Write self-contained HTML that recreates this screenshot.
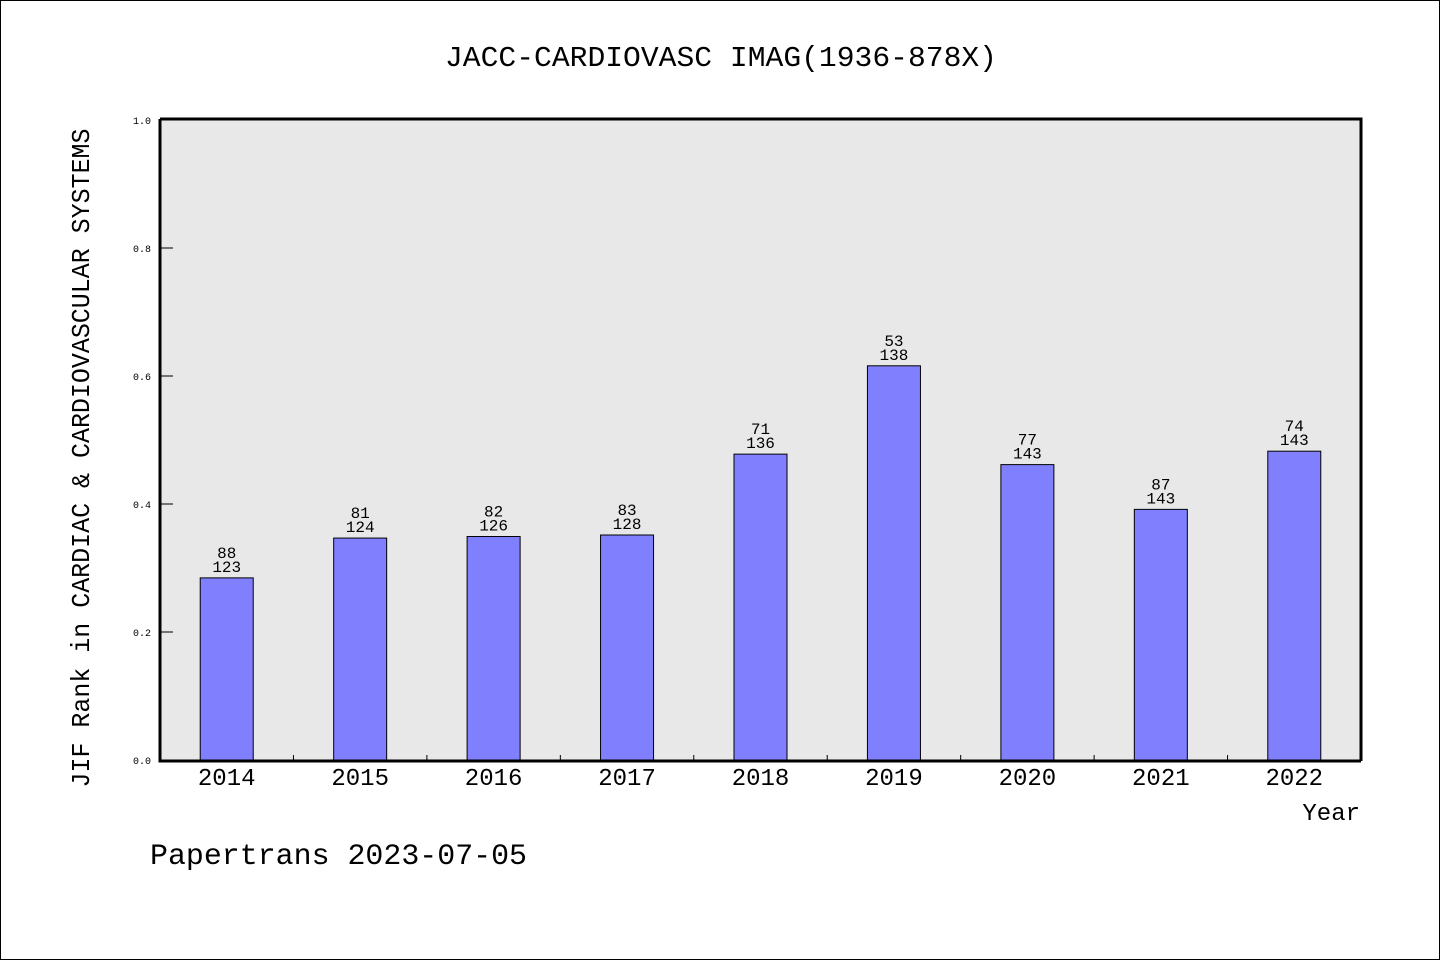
<!DOCTYPE html>
<html><head><meta charset="utf-8"><style>
html,body{margin:0;padding:0;background:#fff;}
svg{display:block;}
text{font-family:"Liberation Mono","DejaVu Sans Mono",monospace;fill:#000;}
</style></head><body>
<svg id="chart" width="1440" height="960" viewBox="0 0 1440 960">
<rect x="0.5" y="0.5" width="1439" height="959" fill="#fff" stroke="#000" stroke-width="1"/>
<text x="721" y="66" font-size="29" text-anchor="middle" textLength="552" lengthAdjust="spacingAndGlyphs">JACC-CARDIOVASC IMAG(1936-878X)</text>
<rect x="160" y="120" width="1201" height="640" fill="#e8e8e8"/>
<g id="yticks"></g>
<g id="bars"></g>
<g id="xticks"></g>
<path d="M160 119 H1361 V761 M160 119 V761 H1361" fill="none" stroke="#000" stroke-width="3"/>
<text transform="translate(89,458) rotate(-90)" font-size="26" text-anchor="middle" textLength="659" lengthAdjust="spacingAndGlyphs">JIF Rank in CARDIAC &amp; CARDIOVASCULAR SYSTEMS</text>
<text x="1360" y="820" font-size="24" text-anchor="end">Year</text>
<text x="150" y="864" font-size="30" textLength="377" lengthAdjust="spacingAndGlyphs">Papertrans 2023-07-05</text>
</svg>
<script>
const years = ["2014","2015","2016","2017","2018","2019","2020","2021","2022"];
const ranks = [88,81,82,83,71,53,77,87,74];
const totals = [123,124,126,128,136,138,143,143,143];
const yTickLabels = ["0.0","0.2","0.4","0.6","0.8","1.0"];
const yTickValues = [0,0.2,0.4,0.6,0.8,1.0];

const NS="http://www.w3.org/2000/svg";
const X0=160,X1=1361,Y0=760,Y1=120;
const slot=(X1-X0)/years.length;
const xc=i=>X0+slot*(i+0.5);
const ys=v=>Y0-(Y0-Y1)*v;
function mk(tag,attrs,parent){const e=document.createElementNS(NS,tag);for(const k in attrs)e.setAttribute(k,attrs[k]);parent.appendChild(e);return e;}
const gY=document.getElementById('yticks'),gB=document.getElementById('bars'),gX=document.getElementById('xticks');
yTickValues.forEach((v,i)=>{
  const l=mk('line',{x1:X0,x2:X0+13,y1:ys(v),y2:ys(v),stroke:'#000','stroke-width':1},gY);
  
  
  const t=mk('text',{x:151,y:ys(v)+4,'font-size':10,'text-anchor':'end'},gY);
  t.textContent=yTickLabels[i];
  
  
});
years.forEach((yr,i)=>{
  const v=1-ranks[i]/totals[i];
  const bw=53,cx=xc(i);
  const r=mk('rect',{x:cx-bw/2,y:ys(v),width:bw,height:Y0-ys(v),fill:'#8080ff',stroke:'#000','stroke-width':1},gB);
  
  
  const t1=mk('text',{x:cx,y:ys(v)-20,'font-size':16,'text-anchor':'middle'},gB);
  t1.textContent=ranks[i];
  
  
  const t2=mk('text',{x:cx,y:ys(v)-6,'font-size':16,'text-anchor':'middle'},gB);
  t2.textContent=totals[i];
  
  
  const xl=mk('text',{x:cx,y:785,'font-size':24,'text-anchor':'middle'},gX);
  xl.textContent=yr;
  
  
  if(i>0){
    const tk=mk('line',{x1:X0+slot*i,x2:X0+slot*i,y1:Y0,y2:Y0-5,stroke:'#000','stroke-width':1},gX);
    
    
  }
});
</script>
</body></html>
